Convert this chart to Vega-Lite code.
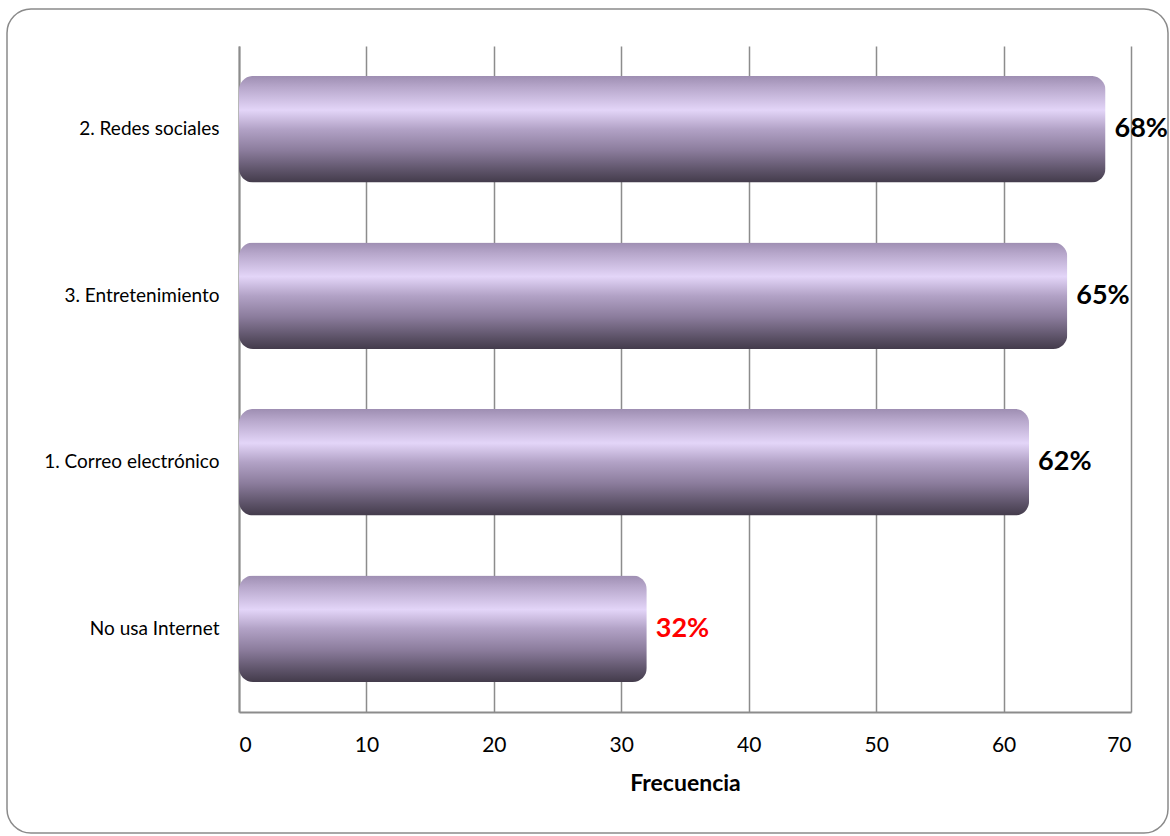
{
  "$schema": "https://vega.github.io/schema/vega-lite/v6.json",
  "width": 892,
  "height": 666,
  "autosize": {"type": "none"},
  "padding": {"left": 239, "top": 46, "right": 39, "bottom": 124},
  "background": "white",
  "config": {
    "view": {"stroke": null},
    "font": "Lato"
  },
  "data": {
    "values": [
      {"uso": "2. Redes sociales", "frecuencia": 68, "etiqueta": "68%", "color": "black"},
      {"uso": "3. Entretenimiento", "frecuencia": 65, "etiqueta": "65%", "color": "black"},
      {"uso": "1. Correo electrónico", "frecuencia": 62, "etiqueta": "62%", "color": "black"},
      {"uso": "No usa Internet", "frecuencia": 32, "etiqueta": "32%", "color": "#ff0000"}
    ]
  },
  "encoding": {
    "y": {
      "field": "uso",
      "type": "nominal",
      "sort": null,
      "scale": {"paddingInner": 0.36, "paddingOuter": 0.18},
      "axis": {
        "title": null,
        "domain": true,
        "domainColor": "#8c8c8c",
        "domainWidth": 2,
        "ticks": false,
        "labelPadding": 20,
        "labelFontSize": 19,
        "labelColor": "#000000",
        "labelFont": "Lato"
      }
    },
    "x": {
      "field": "frecuencia",
      "type": "quantitative",
      "scale": {"domain": [0, 70], "nice": false},
      "axis": {
        "values": [0, 10, 20, 30, 40, 50, 60, 70],
        "title": "Frecuencia",
        "titleFontSize": 23,
        "titleFontWeight": "bold",
        "titleColor": "#000000",
        "titlePadding": 17,
        "titleFont": "Lato",
        "labelFontSize": 21,
        "labelColor": "#000000",
        "labelPadding": 22,
        "labelFont": "Lato",
        "grid": true,
        "gridColor": "#8c8c8c",
        "gridWidth": 1.5,
        "domainColor": "#8c8c8c",
        "domainWidth": 2,
        "ticks": false
      }
    }
  },
  "layer": [
    {
      "data": {"values": [{"marco": "área del gráfico"}]},
      "mark": {
        "type": "rect",
        "fill": null,
        "stroke": "#8a8a8a",
        "strokeWidth": 1.5,
        "cornerRadius": 24
      },
      "encoding": {
        "x": {"value": -232},
        "x2": {"value": 929},
        "y": {"value": -37},
        "y2": {"value": 787}
      }
    },
    {
      "mark": {
        "type": "bar",
        "cornerRadius": 14,
        "fill": {
          "gradient": "linear",
          "x1": 0, "y1": 0, "x2": 0, "y2": 1,
          "stops": [
            {"offset": 0, "color": "#9e8eb2"},
            {"offset": 0.1, "color": "#b6a6ca"},
            {"offset": 0.32, "color": "#e3d5f8"},
            {"offset": 0.5, "color": "#b2a2c6"},
            {"offset": 0.7, "color": "#8b7c9c"},
            {"offset": 0.9, "color": "#5a5065"},
            {"offset": 1, "color": "#433b4b"}
          ]
        }
      }
    },
    {
      "mark": {
        "type": "text",
        "align": "left",
        "baseline": "middle",
        "dx": 9,
        "fontSize": 27,
        "fontWeight": "bold",
        "font": "Lato"
      },
      "encoding": {
        "text": {"field": "etiqueta"},
        "color": {"field": "color", "type": "nominal", "scale": null}
      }
    }
  ]
}
